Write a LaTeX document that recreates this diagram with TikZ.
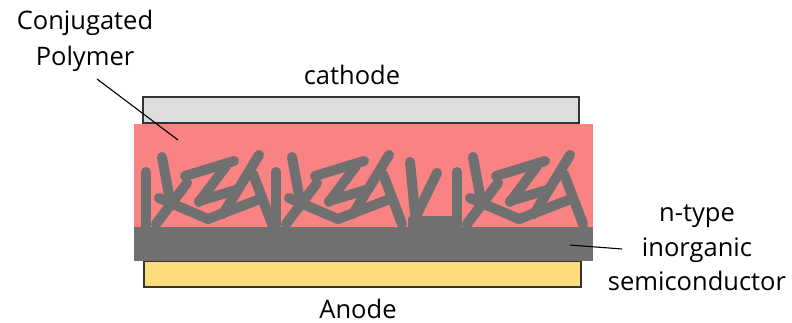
\documentclass[tikz,border=0pt]{standalone}
\usepackage{fontspec}
\setmainfont{Open Sans}
\definecolor{polypink}{RGB}{249,130,130}
\definecolor{rodgray}{RGB}{112,112,112}
\definecolor{cathgray}{RGB}{221,221,221}
\definecolor{anodeyel}{RGB}{254,220,122}
\begin{document}
\begin{tikzpicture}[x=1pt,y=-1pt,
  lbl/.style={font=\fontsize{25.5}{34}\selectfont, inner sep=0pt, align=center},
  electrode/.style={draw=black!80, line width=1.2pt},
  rod/.style={draw=rodgray, line width=10pt, line cap=round},
  leader/.style={draw=black, line width=1.1pt},
  rodgroup/.pic={
    % I
    \draw[rod] (0,-54) -- (0,0);
    % K
    \draw[rod] (16,-69) -- (25,-20);
    \draw[rod] (10,-2) -- (41,-43);
    \draw[rod] (13,-28) -- (62,-7);
    % Z
    \draw[rod] (39,-50) -- (88,-65);
    \draw[rod] (80,-60) -- (53,-24);
    \draw[rod] (53,-25) -- (90,-36);
    % A
    \draw[rod] (62,-7) -- (114,-27);
    \draw[rod] (113,-71) -- (77,-12);
    \draw[rod] (107,-52) -- (126,-2);
  }]
\useasboundingbox (0,0) rectangle (792,323);
\fill[white] (0,0) rectangle (792,323);

% electrodes and active layers
\node[electrode, fill=anodeyel, minimum width=437pt, minimum height=26pt, inner sep=0pt] (anode) at (362.5,274) {};
\node[electrode, fill=cathgray, minimum width=436pt, minimum height=26pt, inner sep=0pt] (cathode) at (361,110) {};
\fill[polypink] (134,124) rectangle (593,227);

% polymer chains
\pic at (146,226) {rodgroup};
\pic at (276,226) {rodgroup};
\pic at (457,226) {rodgroup};
\draw[rod] (410,162) -- (415,214);
\draw[rod] (437,173) -- (417,214);

% n-type layer
\fill[rodgray] (134,227) rectangle (593,261);
\fill[rodgray, rounded corners=3pt] (408,216) rectangle (462,230);

% labels
\node[lbl, anchor=base] (cathlbl) at (352,85) {cathode};
\node[lbl, anchor=base] (anodelbl) at (358,318) {Anode};
\node[lbl, anchor=base] (polylbl1) at (85,30) {Conjugated};
\node[lbl, anchor=base] (polylbl2) at (85,66) {Polymer};
\node[lbl, anchor=base] (ntype1) at (697,222) {n-type};
\node[lbl, anchor=base] (ntype2) at (697,256) {inorganic};
\node[lbl, anchor=base] (ntype3) at (697,290) {semiconductor};

% leader lines
\coordinate (polyfrom) at (97,79);
\coordinate (polyto) at (178,140);
\coordinate (nfrom) at (622,249);
\coordinate (nto) at (570,245);
\draw[leader] (polyfrom) -- (polyto);
\draw[leader] (nfrom) -- (nto);
\end{tikzpicture}
\end{document}
